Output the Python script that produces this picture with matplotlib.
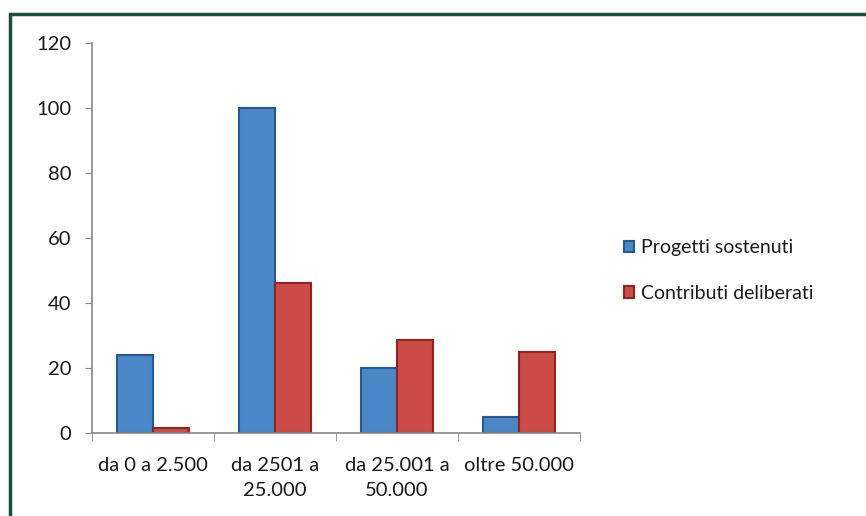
import matplotlib
matplotlib.use("Agg")
import matplotlib.pyplot as plt
from matplotlib.patches import Rectangle
import numpy as np

categories = ["da 0 a 2.500", "da 2501 a\n25.000", "da 25.001 a\n50.000", "oltre 50.000"]
progetti = [24, 100, 20, 5]
contributi = [1.5, 46, 28.5, 25]
series_names = ["Progetti sostenuti", "Contributi deliberati"]

plt.rcParams['font.family'] = ['Lato', 'DejaVu Sans']

fig = plt.figure(figsize=(8.66, 5.16), dpi=100)
ax = fig.add_axes([0.1062, 0.1609, 0.5635, 0.7558])

# outer frame, running off the right and bottom edges
fig.patches.append(Rectangle((0.012, -0.05), 1.05, 1.023,
                             transform=fig.transFigure, fill=False,
                             edgecolor='#1d4f3f', linewidth=2.5))

x = np.arange(len(categories))
w = 0.295
ax.bar(x - w / 2, progetti, w, color='#4a87c6', edgecolor='#25598f',
       linewidth=1.5, label=series_names[0])
ax.bar(x + w / 2, contributi, w, color='#cd4b47', edgecolor='#8c2523',
       linewidth=1.5, label=series_names[1])

txt = '#1a1a1a'
ax.set_xlim(-0.5, len(categories) - 0.5)
ax.set_ylim(0, 120)
ax.set_yticks(range(0, 121, 20))
ax.set_xticks(x)
ax.set_xticklabels(categories, fontsize=14.5, color=txt, linespacing=1.6)
ax.set_xticks(np.arange(-0.5, len(categories), 1), minor=True)
ax.tick_params(axis='x', which='major', length=0, pad=17)
ax.tick_params(axis='x', which='minor', length=6, color='#888888')
ax.tick_params(axis='y', length=5, color='#888888', labelsize=14.5,
               labelcolor=txt, pad=10)

for s in ['top', 'right']:
    ax.spines[s].set_visible(False)
for s in ['left', 'bottom']:
    ax.spines[s].set_color('#888888')
    ax.spines[s].set_linewidth(1.2)

leg = fig.legend(loc='upper left', bbox_to_anchor=(0.70, 0.57), frameon=False,
                 handlelength=0.55, handleheight=0.55,
                 handletextpad=0.35, labelspacing=1.45,
                 prop={'size': 14})
for t in leg.get_texts():
    t.set_color(txt)

fig.savefig("out.png", dpi=100)
